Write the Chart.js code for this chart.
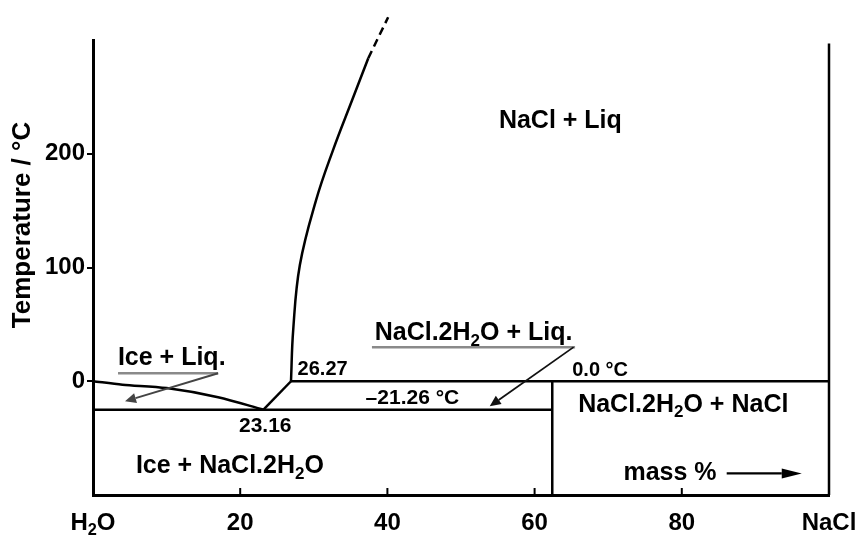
<!DOCTYPE html>
<html>
<head>
<meta charset="utf-8">
<script src="https://cdn.jsdelivr.net/npm/chart.js@4.4.1/dist/chart.umd.min.js"></script>
<style>
  html, body { margin: 0; padding: 0; background: #fff; }
  #wrap { width: 859px; height: 535px; }
</style>
</head>
<body>
<div id="wrap"><canvas id="chart" width="859" height="535"></canvas></div>
<script>
// --- Data: mass % NaCl (x) vs temperature / °C (y) ---
const xTicks = [0, 20, 40, 60, 80, 100];
const xTickLabels = ["H_2O", "20", "40", "60", "80", "NaCl"];
const yTicks = [0, 100, 200];

const iceLiquidus = [[0, 0], [4, -3], [10, -6], [17, -14], [23.16, -25]];
const solubility = [[26.9, 0], [27.2, 45], [28.1, 102], [30.3, 159], [32.6, 203], [35.2, 247], [37.4, 284]];
const solubilityExtrap = [[37.4, 284], [40.1, 320]];
const eutecticLine = [[0, -25], [62.4, -25]];
const peritecticLink = [[23.16, -25], [26.9, 0]];
const peritecticLine = [[26.9, 0], [100, 0]];
const hydrateLine = [[62.4, 0], [62.4, -100]];
const rightEdge = [[100, -100], [100, 297]];

// --- Annotations (data coords) ---
const notes = [
  { text: "NaCl + Liq", x: 63.5, y: 223, size: 25 },
  { text: "Ice + Liq.", x: 10.7, y: 14, size: 25 },
  { text: "NaCl.2H_2O + Liq.", x: 51.7, y: 36, size: 25 },
  { text: "NaCl.2H_2O + NaCl", x: 80.2, y: -27, size: 25 },
  { text: "Ice + NaCl.2H_2O", x: 18.6, y: -81, size: 25 },
  { text: "mass %", x: 78.4, y: -87, size: 25 },
  { text: "26.27", x: 31.2, y: 5.3, size: 20 },
  { text: "23.16", x: 23.4, y: -44.8, size: 21 },
  { text: "0.0 °C", x: 68.9, y: 4.4, size: 20 },
  { text: "–21.26 °C", x: 43.4, y: -20, size: 21 },
];
const underlines = [
  [[3.4, 7], [17.0, 7]],
  [[37.9, 30], [65.5, 30]],
];
const arrows = [
  { from: [17.0, 7], to: [4.35, -17.6], color: "#444", lw: 2, head: 11, half: 5 },
  { from: [65.3, 30], to: [53.9, -22], color: "#111", lw: 1.8, head: 11, half: 5 },
  { from: [86.1, -81], to: [96.3, -81], color: "#000", lw: 2.2, head: 20, half: 5 },
];

const FONT = '"Liberation Sans", Arial, Helvetica, sans-serif';

// --- Utilities ---
const $ = (id) => document.getElementById(id);
const pts = (arr) => arr.map(([x, y]) => ({ x, y }));
const line = (arr, extra = {}) => ({
  data: pts(arr),
  showLine: true,
  borderColor: "#000",
  borderWidth: 2.5,
  pointRadius: 0,
  fill: false,
  tension: 0,
  clip: false,
  ...extra,
});

function parseRich(str) {
  const out = [];
  let buf = "";
  for (let i = 0; i < str.length; i++) {
    if (str[i] === "_") {
      if (buf) out.push({ t: buf, sub: false });
      buf = "";
      out.push({ t: str[++i], sub: true });
    } else buf += str[i];
  }
  if (buf) out.push({ t: buf, sub: false });
  return out;
}

function drawRich(ctx, str, cx, base, size, color) {
  const segs = parseRich(str);
  const fnt = (s) => `bold ${s}px ${FONT}`;
  let w = 0;
  segs.forEach((s) => {
    ctx.font = fnt(s.sub ? size * 0.68 : size);
    s.w = ctx.measureText(s.t).width;
    w += s.w;
  });
  let xx = cx - w / 2;
  ctx.fillStyle = color;
  ctx.textAlign = "left";
  ctx.textBaseline = "alphabetic";
  segs.forEach((s) => {
    ctx.font = fnt(s.sub ? size * 0.68 : size);
    ctx.fillText(s.t, xx, s.sub ? base + size * 0.22 : base);
    xx += s.w;
  });
}

function drawArrow(ctx, x1, y1, x2, y2, color, lw, hl, hw) {
  const a = Math.atan2(y2 - y1, x2 - x1);
  const bx = x2 - hl * Math.cos(a);
  const by = y2 - hl * Math.sin(a);
  ctx.strokeStyle = color;
  ctx.fillStyle = color;
  ctx.lineWidth = lw;
  ctx.beginPath();
  ctx.moveTo(x1, y1);
  ctx.lineTo(bx, by);
  ctx.stroke();
  ctx.beginPath();
  ctx.moveTo(x2, y2);
  ctx.lineTo(bx + hw * Math.sin(a), by - hw * Math.cos(a));
  ctx.lineTo(bx - hw * Math.sin(a), by + hw * Math.cos(a));
  ctx.closePath();
  ctx.fill();
}

// --- Plugin: ticks, labels, arrows ---
const diagramText = {
  id: "diagramText",
  afterDraw(chart) {
    const { ctx, chartArea } = chart;
    const xs = chart.scales.x;
    const ys = chart.scales.y;
    const px = (v) => xs.getPixelForValue(v);
    const py = (v) => ys.getPixelForValue(v);
    ctx.save();

    // inward ticks on the mass % axis
    ctx.strokeStyle = "#000";
    ctx.lineWidth = 2;
    xs.ticks.forEach((t) => {
      if (t.value <= 0 || t.value >= 100) return;
      const X = px(t.value);
      ctx.beginPath();
      ctx.moveTo(X, chartArea.bottom);
      ctx.lineTo(X, chartArea.bottom - 7);
      ctx.stroke();
    });

    // x tick labels
    xs.ticks.forEach((t, i) => drawRich(ctx, xTickLabels[i], px(t.value), chartArea.bottom + 35, 24, "#000"));

    // y title
    ctx.save();
    ctx.translate(23, 225);
    ctx.rotate(-Math.PI / 2);
    ctx.font = `bold 26px ${FONT}`;
    ctx.textAlign = "center";
    ctx.textBaseline = "middle";
    ctx.fillStyle = "#000";
    ctx.fillText("Temperature / °C", 0, 0);
    ctx.restore();

    // underlines
    ctx.strokeStyle = "#8a8a8a";
    ctx.lineWidth = 2.5;
    underlines.forEach(([a, b]) => {
      ctx.beginPath();
      ctx.moveTo(px(a[0]), py(a[1]));
      ctx.lineTo(px(b[0]), py(b[1]));
      ctx.stroke();
    });

    arrows.forEach((a) =>
      drawArrow(ctx, px(a.from[0]), py(a.from[1]), px(a.to[0]), py(a.to[1]), a.color, a.lw, a.head, a.half)
    );

    notes.forEach((n) => drawRich(ctx, n.text, px(n.x), py(n.y), n.size, "#000"));
    ctx.restore();
  },
};

// --- Chart ---
const chart = new Chart($("chart").getContext("2d"), {
  type: "scatter",
  data: {
    datasets: [
      line(iceLiquidus, { tension: 0.3 }),
      line(solubility, { tension: 0.4 }),
      line(solubilityExtrap, { borderDash: [8, 5] }),
      line(eutecticLine),
      line(peritecticLink),
      line(peritecticLine),
      line(hydrateLine),
      line(rightEdge),
    ],
  },
  options: {
    responsive: false,
    animation: false,
    events: [],
    layout: { padding: { top: 40, right: 30, left: 0, bottom: 0 } },
    plugins: { legend: { display: false }, tooltip: { enabled: false } },
    scales: {
      x: {
        type: "linear",
        min: 0,
        max: 100,
        afterFit: (s) => { s.height = 40; },
        afterBuildTicks: (s) => { s.ticks = xTicks.map((v) => ({ value: v })); },
        ticks: { display: false },
        grid: { display: true, drawOnChartArea: false, drawTicks: false },
        border: { display: true, color: "#000", width: 3 },
      },
      y: {
        type: "linear",
        min: -100,
        max: 300,
        afterFit: (s) => { s.width = 93; },
        afterBuildTicks: (s) => { s.ticks = yTicks.map((v) => ({ value: v })); },
        ticks: { color: "#000", padding: 2, font: { family: FONT, size: 24, weight: "bold" } },
        grid: { drawOnChartArea: false, drawTicks: true, tickLength: 6, color: "#000", lineWidth: 2 },
        border: { display: true, color: "#000", width: 3 },
      },
    },
  },
  plugins: [diagramText],
});
</script>
</body>
</html>
